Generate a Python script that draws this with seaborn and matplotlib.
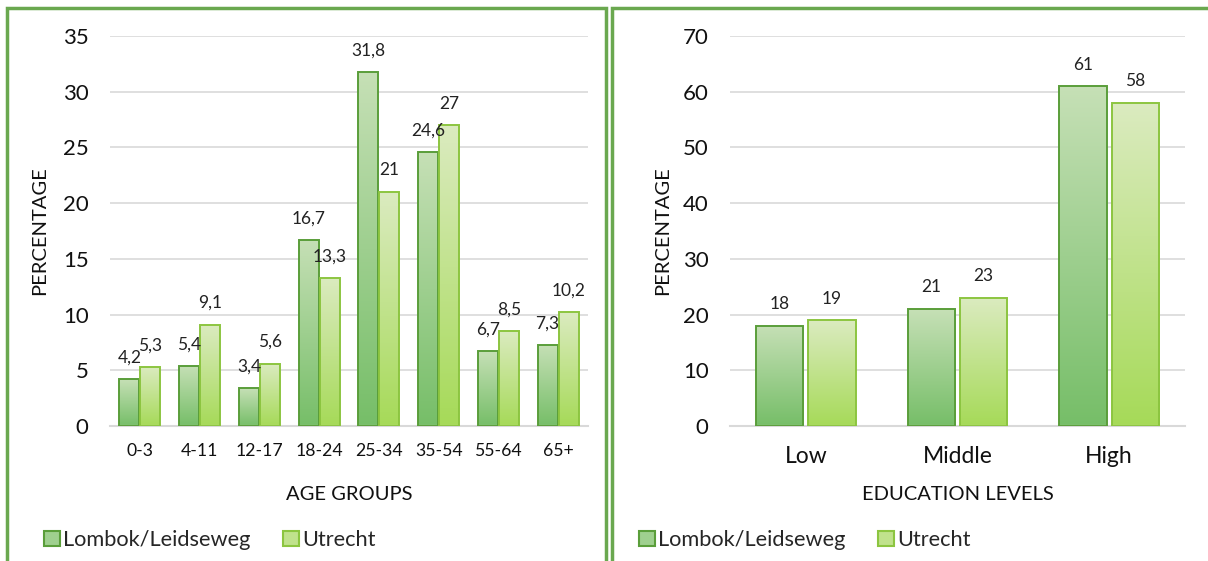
import numpy as np
import pandas as pd
import matplotlib
matplotlib.use("Agg")
import matplotlib.pyplot as plt
import seaborn as sns
from matplotlib.colors import LinearSegmentedColormap
from matplotlib.patches import Rectangle, Patch

# ---- data ----
age_groups = ["0-3", "4-11", "12-17", "18-24", "25-34", "35-54", "55-64", "65+"]
lombok_age = [4.2, 5.4, 3.4, 16.7, 31.8, 24.6, 6.7, 7.3]
utrecht_age = [5.3, 9.1, 5.6, 13.3, 21, 27, 8.5, 10.2]

edu_levels = ["Low", "Middle", "High"]
lombok_edu = [18, 21, 61]
utrecht_edu = [19, 23, 58]

series = ["Lombok/Leidseweg", "Utrecht"]

# ---- style ----
sns.set_style("white")
plt.rcParams["font.family"] = ["Lato", "DejaVu Sans"]

GRID = "#d9d9d9"
BORDER = "#6aa84f"
grad_top = {"Lombok/Leidseweg": "#c6e0b6", "Utrecht": "#dbebc0"}
grad_bot = {"Lombok/Leidseweg": "#76be68", "Utrecht": "#a6da58"}
edges = {"Lombok/Leidseweg": "#5a9e3a", "Utrecht": "#8cc540"}
mids = {"Lombok/Leidseweg": "#9fd08f", "Utrecht": "#c0e28c"}

W, H = 1208, 561
fig = plt.figure(figsize=(W / 100, H / 100), dpi=100)


def fx(px):
    return px / W


def fy(py):
    return (H - py) / H


def make_df(cats, a, b):
    return pd.DataFrame({
        "cat": cats * 2,
        "val": list(a) + list(b),
        "series": [series[0]] * len(cats) + [series[1]] * len(cats),
    })


def fmt(v):
    return f"{v:g}".replace(".", ",")


def panel(ax, df, cats, ymax, ystep, width, gap, xtick_fs, xtick_pad, val_fs, xlabel):
    sns.barplot(data=df, x="cat", y="val", hue="series", order=cats,
                hue_order=series, palette=mids, width=width, gap=gap,
                ax=ax, legend=False, errorbar=None)
    ax.set_axisbelow(True)
    grad = np.linspace(0, 1, 256).reshape(-1, 1)
    for s, cont in zip(series, ax.containers):
        cmap = LinearSegmentedColormap.from_list(s, [grad_bot[s], grad_top[s]])
        for bar in cont:
            x0 = bar.get_x()
            x1 = x0 + bar.get_width()
            h = bar.get_height()
            bar.set_facecolor("none")
            bar.set_edgecolor(edges[s])
            bar.set_linewidth(1.4)
            bar.set_zorder(3)
            im = ax.imshow(grad, cmap=cmap, origin="lower", aspect="auto",
                           extent=(x0, x1, 0, h), zorder=2.5)
            im.set_clip_path(bar)
            ax.annotate(fmt(h), (x0 + (x1 - x0) / 2, h), xytext=(0, 15.5),
                        textcoords="offset points", ha="center", va="center",
                        fontsize=val_fs, color="#222222")
    ax.set_xlim(-0.5, len(cats) - 0.5)
    ax.set_ylim(0, ymax)
    ax.set_yticks(np.arange(0, ymax + 0.1, ystep))
    ax.yaxis.grid(True, color=GRID, lw=1.2)
    ax.xaxis.grid(False)
    for sp in ["top", "right", "left"]:
        ax.spines[sp].set_visible(False)
    ax.spines["bottom"].set_color(GRID)
    ax.spines["bottom"].set_linewidth(1.5)
    ax.tick_params(axis="y", length=0, pad=15.5, labelsize=16, labelcolor="#111111")
    ax.tick_params(axis="x", length=0, pad=xtick_pad, labelsize=xtick_fs, labelcolor="#111111")
    ax.set_ylabel("PERCENTAGE", fontsize=14.5, color="#111111")
    ax.set_xlabel(xlabel, fontsize=14.5, color="#111111")
    ax.yaxis.label.set_va("center")
    ax.xaxis.label.set_va("center")


# left panel
axL = fig.add_axes([fx(110), fy(426), fx(588) - fx(110), fy(36) - fy(426)])
panel(axL, make_df(age_groups, lombok_age, utrecht_age), age_groups, 35, 5,
      0.7, 0.05, 12.7, 12, 12.5, "AGE GROUPS")
axL.yaxis.set_label_coords((40 - 110) / 478, 0.5)
axL.xaxis.set_label_coords(0.5, (426 - 494) / 390)

# right panel
axR = fig.add_axes([fx(730), fy(426), fx(1185) - fx(730), fy(36) - fy(426)])
panel(axR, make_df(edu_levels, lombok_edu, utrecht_edu), edu_levels, 70, 10,
      0.69, 0.1, 16.5, 14.5, 12.5, "EDUCATION LEVELS")
axR.yaxis.set_label_coords((663 - 730) / 455, 0.5)
axR.xaxis.set_label_coords(0.5, (426 - 494) / 390)

# legends
handles = [Patch(facecolor=mids[s], edgecolor=edges[s], lw=1.5, label=s) for s in series]
for x0 in (44, 639):
    fig.legend(handles=handles, loc="center left", bbox_to_anchor=(fx(x0), fy(540)),
               ncol=2, frameon=False, fontsize=15.7, handlelength=0.72, handleheight=0.72,
               handletextpad=0.15, columnspacing=1.5, borderpad=0, borderaxespad=0)

# panel borders
fig.add_artist(Rectangle((fx(7), -0.1), fx(606) - fx(7), fy(8) + 0.1,
                         transform=fig.transFigure, fill=False, edgecolor=BORDER, lw=2.5))
fig.add_artist(Rectangle((fx(612), -0.1), 0.6, fy(8) + 0.1,
                         transform=fig.transFigure, fill=False, edgecolor=BORDER, lw=2.5))

fig.savefig("out.png", dpi=100)
